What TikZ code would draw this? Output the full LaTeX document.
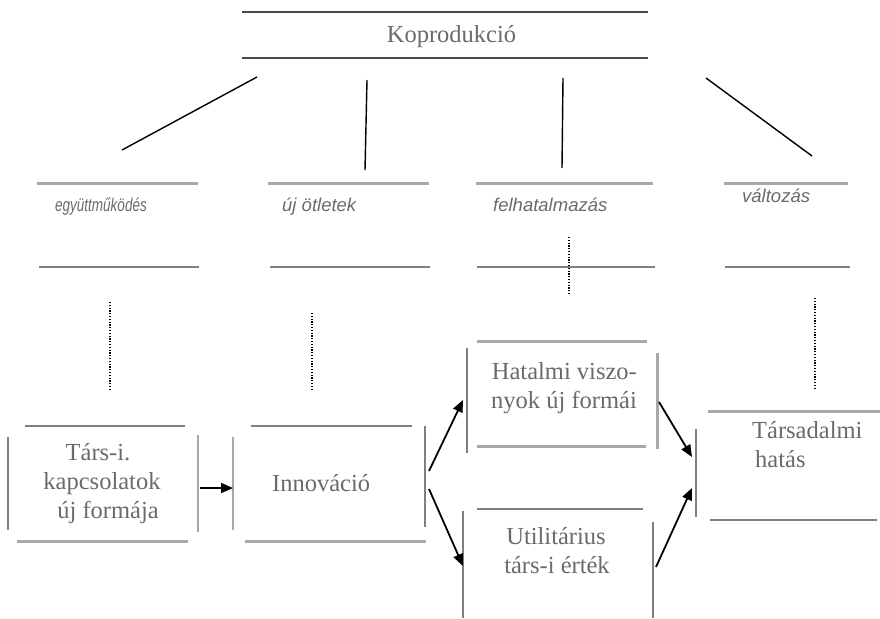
\documentclass[tikz,border=0pt]{standalone}
\usepackage{fontspec}
\usepackage{graphicx}
\setmainfont{Liberation Serif}
\newfontfamily\labelfont{Liberation Sans}
\usetikzlibrary{arrows.meta}
\definecolor{txtgray}{HTML}{6A6A6A}
\definecolor{lgray}{HTML}{A8A8A8}
\definecolor{mgray}{HTML}{808080}
\definecolor{dgray}{HTML}{4A4A4A}
\begin{document}
\begin{tikzpicture}[x=1pt,y=-1pt,
  boxtext/.style={font=\fontsize{24.5}{29}\selectfont, text=txtgray, inner sep=0pt},
  lbltext/.style={font=\labelfont\itshape\fontsize{18.5}{22}\selectfont, text=txtgray, inner sep=0pt, anchor=base west},
  heavyrule/.style={draw=lgray, line width=3pt},
  midrule/.style={draw=mgray, line width=2pt},
  thinrule/.style={draw=mgray, line width=1.5pt},
  toprule/.style={draw=dgray, line width=1.5pt},
  spoke/.style={draw=black, line width=1.4pt},
  dotline/.style={draw=black, line width=1.2pt, dash pattern=on 1.2pt off 1.6pt},
  flow/.style={draw=black, line width=1.8pt, -{Triangle[length=12pt,width=10pt]}}
]
\useasboundingbox (0,0) rectangle (880,618);

% --- Koprodukcio
\draw[toprule] (242,12) -- (648,12);
\draw[toprule] (242,58) -- (648,58);
\node[boxtext, anchor=base] (kop) at (451.5,43) {Koprodukció};

% --- spokes
\coordinate (s1a) at (122,150); \coordinate (s1b) at (257,77);
\coordinate (s2a) at (365,170); \coordinate (s2b) at (367,80);
\coordinate (s3a) at (562,168); \coordinate (s3b) at (563,78);
\coordinate (s4a) at (812,156); \coordinate (s4b) at (706,78);
\draw[spoke] (s1a) -- (s1b);
\draw[spoke] (s2a) -- (s2b);
\draw[spoke] (s3a) -- (s3b);
\draw[spoke] (s4a) -- (s4b);

% --- label boxes
\draw[heavyrule] (37,183) -- (198,183);
\draw[midrule] (39,267) -- (199,267);
\node[lbltext] (l1) at (55,211) {\scalebox{0.73}[1]{együttműködés}};

\draw[heavyrule] (268,183) -- (429,183);
\draw[midrule] (270,267) -- (430,267);
\node[lbltext] (l2) at (282,211) {új ötletek};

\draw[heavyrule] (476,183) -- (653,183);
\draw[midrule] (477,267) -- (655,267);
\node[lbltext] (l3) at (493,211) {felhatalmazás};

\draw[heavyrule] (724,183) -- (848,183);
\draw[midrule] (725,267) -- (850,267);
\node[lbltext] (l4) at (742,202) {változás};

% --- dotted lines
\draw[dotline] (110,302) -- (110,390);
\draw[dotline] (312,313) -- (312,390);
\draw[dotline] (569,237) -- (569,295);
\draw[dotline] (815,298) -- (815,388);

% --- Box 1
\draw[thinrule] (25,426) -- (185,426);
\draw[thinrule] (8,437) -- (8,530);
\draw[heavyrule, line width=2.5pt] (198,435) -- (198,532);
\draw[heavyrule] (17,541) -- (188,541);
\node[boxtext, anchor=base] (b1a) at (98,460) {Társ-i.};
\node[boxtext, anchor=base] (b1b) at (102,489) {kapcsolatok};
\node[boxtext, anchor=base] (b1c) at (108,518) {új formája};

% --- Box 2
\draw[thinrule] (251,426) -- (412,426);
\draw[heavyrule, line width=2.5pt] (233,437) -- (233,530);
\draw[midrule] (425,426) -- (425,527);
\draw[heavyrule] (245,541) -- (426,541);
\node[boxtext, anchor=base west] (b2) at (272,491) {Innováció};

% --- Box 3
\draw[heavyrule] (477,341) -- (647,341);
\draw[midrule] (467,348) -- (467,453);
\draw[heavyrule] (657,353) -- (657,449);
\draw[heavyrule] (477,446) -- (646,446);
\node[boxtext, anchor=base east] (b3a) at (637,379) {Hatalmi viszo-};
\node[boxtext, anchor=base east] (b3b) at (637,408) {nyok új formái};

% --- Box 4
\draw[thinrule] (477,509) -- (643,509);
\draw[midrule] (463,511) -- (463,618);
\draw[midrule] (653,522) -- (653,618);
\node[boxtext, anchor=base] (b4a) at (556,544) {Utilitárius};
\node[boxtext, anchor=base] (b4b) at (557,573) {társ-i érték};

% --- Box 5
\draw[heavyrule] (708,411) -- (880,411);
\draw[thinrule] (696,429) -- (696,517);
\draw[thinrule] (710,520) -- (877,520);
\node[boxtext, anchor=base west] (b5a) at (752,438) {Társadalmi};
\node[boxtext, anchor=base west] (b5b) at (755,467) {hatás};

% --- arrows
\coordinate (a1s) at (200,488); \coordinate (a1e) at (233,488);
\coordinate (a2s) at (429,471); \coordinate (a2e) at (463,400);
\coordinate (a3s) at (429,489); \coordinate (a3e) at (463,566);
\coordinate (a4s) at (659,402); \coordinate (a4e) at (692,457);
\coordinate (a5s) at (656,567); \coordinate (a5e) at (692,488);
\draw[flow] (a1s) -- (a1e);
\draw[flow] (a2s) -- (a2e);
\draw[flow] (a3s) -- (a3e);
\draw[flow] (a4s) -- (a4e);
\draw[flow] (a5s) -- (a5e);
\end{tikzpicture}
\end{document}
